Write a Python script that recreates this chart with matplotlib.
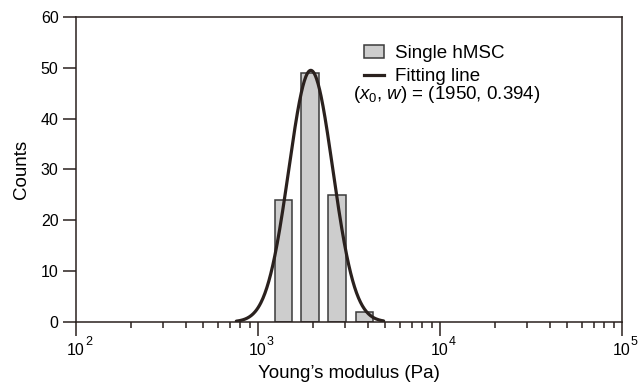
import numpy as np
import matplotlib
matplotlib.use('Agg')
import matplotlib.pyplot as plt
import matplotlib.transforms as mtransforms
from matplotlib.lines import Line2D
from matplotlib.patches import Patch
from matplotlib.ticker import FixedLocator, FixedFormatter

# ================= DATA =================
bin_centers = [1384, 1930, 2716, 3837]   # Pa
counts = [24, 49, 25, 2]

# log-normal fit: y = A * exp(-(ln(x/x0)/w)^2)
fit_x0 = 1950
fit_w = 0.394
fit_amp = 49.5
fit_range = [760, 4900]

x_decades = [2, 3, 4, 5]
ylim = [0, 60]
yticks = [0, 10, 20, 30, 40, 50, 60]

# ================= STYLE =================
plt.rcParams['font.family'] = ['Liberation Sans', 'DejaVu Sans']
plt.rcParams['mathtext.fontset'] = 'custom'
plt.rcParams['mathtext.rm'] = 'Liberation Sans'
plt.rcParams['mathtext.it'] = 'Liberation Sans:italic'
plt.rcParams['mathtext.bf'] = 'Liberation Sans:bold'

INK = '#2a211e'
BAR_FACE = '#cdcdcd'
BAR_EDGE = '#3a3a3a'
HALF_W = 0.047  # bar half width in decades

fig = plt.figure(figsize=(6.38, 3.86), dpi=100)
ax = fig.add_axes([0.1191, 0.1658, 0.8559, 0.7902])

# bars
centers = np.array(bin_centers, dtype=float)
lefts = centers / 10 ** HALF_W
rights = centers * 10 ** HALF_W
ax.bar(lefts, counts, width=rights - lefts, align='edge',
       facecolor=BAR_FACE, edgecolor=BAR_EDGE, linewidth=1.1, zorder=2)

# fitting line
xf = np.logspace(np.log10(fit_range[0]), np.log10(fit_range[1]), 300)
yf = fit_amp * np.exp(-(np.log(xf / fit_x0) / fit_w) ** 2)
ax.plot(xf, yf, color=INK, linewidth=2.3, zorder=3, solid_capstyle='round')

ax.set_xscale('log')
ax.set_xlim(10.0 ** x_decades[0], 10.0 ** x_decades[-1])
ax.set_ylim(ylim)
ax.set_yticks(yticks)

# x tick labels: "10" on the tick, exponent as raised text
major_x = [10.0 ** d for d in x_decades]
ax.xaxis.set_major_locator(FixedLocator(major_x))
ax.xaxis.set_major_formatter(FixedFormatter(['10'] * len(major_x)))
sup_trans = mtransforms.blended_transform_factory(ax.transData, ax.transAxes) + \
    mtransforms.ScaledTranslation(6.4 / 72, -14.6 / 72, fig.dpi_scale_trans)
for d, xv in zip(x_decades, major_x):
    ax.text(xv, 0, str(d), transform=sup_trans, fontsize=9,
            ha='left', va='center', clip_on=False)

for s in ax.spines.values():
    s.set_color(INK)
    s.set_linewidth(1.1)

ax.tick_params(axis='x', which='major', direction='out', length=10, width=1.1,
               color=INK, labelsize=11.5, pad=5)
ax.tick_params(axis='x', which='minor', direction='out', length=4.5, width=1.1,
               color=INK)
ax.tick_params(axis='y', which='major', direction='out', length=9.5, width=1.1,
               color=INK, labelsize=11.5, pad=3)
ax.tick_params(axis='y', which='minor', left=False)

ax.set_xlabel("Young\u2019s modulus (Pa)", fontsize=13.5, labelpad=5)
ax.set_ylabel('Counts', fontsize=13.5, labelpad=8)

# legend
handles = [
    Patch(facecolor=BAR_FACE, edgecolor=BAR_EDGE, linewidth=1.1, label='Single hMSC'),
    Line2D([0], [0], color=INK, linewidth=2.3, label='Fitting line'),
]
ax.legend(handles=handles, loc='upper left', bbox_to_anchor=(0.527, 0.907),
          frameon=False, fontsize=13.5, handlelength=1.1, handletextpad=0.55,
          labelspacing=0.3, borderpad=0, borderaxespad=0)
ax.text(0.5067, 0.745, r'($x_0$, $w$) = (1950, 0.394)', transform=ax.transAxes,
        fontsize=13.5, ha='left', va='center')

fig.savefig('out.png', dpi=100)
